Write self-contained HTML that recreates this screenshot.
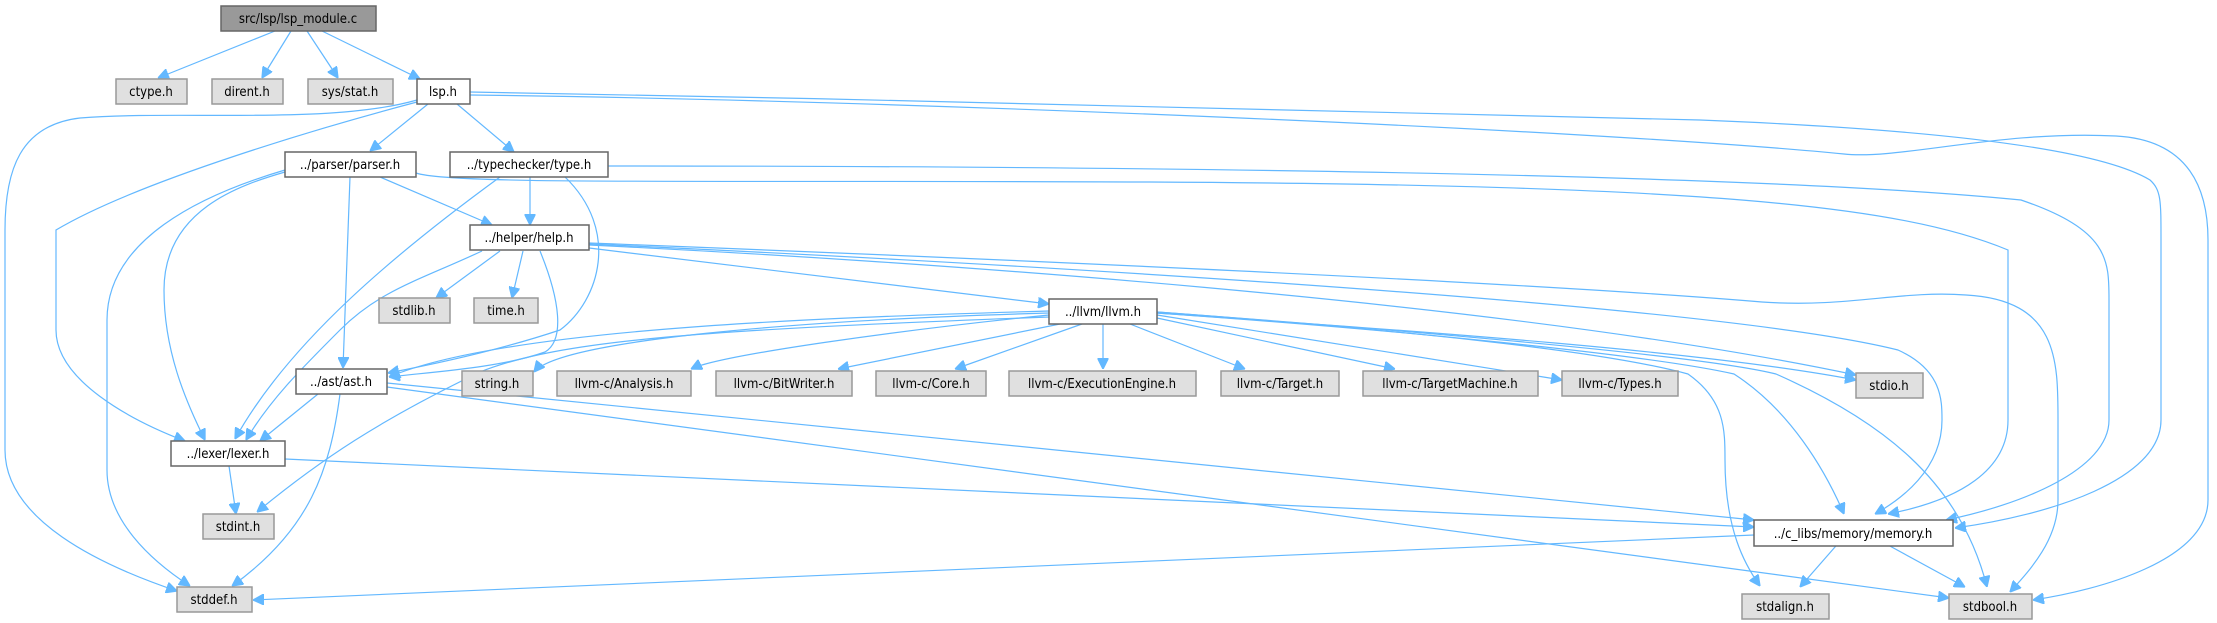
<!DOCTYPE html>
<html><head><meta charset="utf-8"><style>
html,body{margin:0;padding:0;background:#fff;}
svg{display:block;}
text{font-family:"DejaVu Sans Condensed","DejaVu Sans","Liberation Sans",sans-serif;font-size:13px;fill:#000;text-anchor:middle;}
.n{fill:#fff;stroke:#666;stroke-width:1.5;}
.g{fill:#e0e0e0;stroke:#999;stroke-width:1.5;}
.r{fill:#999;stroke:#666;stroke-width:1.5;}
path{fill:none;stroke:#63b8ff;stroke-width:1.2;}
</style></head><body>
<svg width="2217" height="623" viewBox="0 0 2217 623" xmlns="http://www.w3.org/2000/svg">
<defs><marker id="a" viewBox="0 0 10 10" refX="10" refY="5" markerWidth="11" markerHeight="11" markerUnits="userSpaceOnUse" orient="auto"><path d="M0,0 L10,5 L0,10 z" style="fill:#63b8ff;stroke:#63b8ff"/></marker></defs>
<g marker-end="url(#a)">
<!-- lsp_module -->
<path d="M275,31 L158,78"/>
<path d="M291,31 L262,78"/>
<path d="M307,31 L338,78"/>
<path d="M322,31 L420,79"/>
<!-- lsp.h -->
<path d="M428,104 L370,151"/>
<path d="M457,104 L514,152"/>
<path d="M417,102 C330,125 140,180 56,230 L56,330 C56,380 130,420 185,441"/>
<path d="M417,100 C330,125 180,110 80,118 C20,125 5,170 5,230 L5,450 C5,520 100,565 177,591"/>
<path d="M470,92 C900,100 1400,110 1700,120 C1950,130 2100,150 2150,180 C2161,190 2161,200 2161,240 L2161,420 C2161,480 2050,515 1955,528"/>
<path d="M470,95 C900,100 1600,130 1844,154 C1900,160 2000,130 2116,136 C2190,140 2208,190 2208,240 L2208,500 C2208,560 2100,590 2033,600"/>
<!-- parser -->
<path d="M380,177 L492,225"/>
<path d="M350,177 L343,368"/>
<path d="M285,172 C240,185 164,210 164,290 C164,350 185,400 205,440"/>
<path d="M285,170 C200,195 107,240 107,320 L107,470 C107,520 150,560 190,586"/>
<path d="M416,173 C450,185 700,180 1150,182 C1700,185 1900,205 2008,250 L2008,420 C2008,470 1960,500 1888,514"/>
<!-- type -->
<path d="M530,177 L530,225"/>
<path d="M500,177 C400,250 290,340 235,439"/>
<path d="M565,177 C620,230 600,300 560,330 C500,350 430,365 388,373"/>
<path d="M608,166 C900,166 1700,168 2021,200 C2109,230 2109,260 2109,300 L2109,420 C2109,470 2020,505 1946,520"/>
<!-- help -->
<path d="M500,251 L436,298"/>
<path d="M523,251 L512,298"/>
<path d="M589,248 L1049,304"/>
<path d="M482,251 C420,280 380,290 340,330 C300,370 270,400 246,440"/>
<path d="M540,251 C560,300 565,340 545,352 C500,368 430,372 389,377"/>
<path d="M589,243 C900,255 1500,280 1762,302 C1850,308 1900,290 1966,295 C2058,300 2058,360 2058,420 L2058,500 C2058,540 2030,570 2010,592"/>
<path d="M589,244 C900,258 1700,300 1898,350 C1942,370 1942,400 1942,420 C1942,470 1900,500 1875,514"/>
<path d="M589,245 C900,260 1500,300 1856,375"/>
<!-- llvm -->
<path d="M1049,311 C800,318 500,330 389,377"/>
<path d="M1049,313 C800,320 560,340 534,372"/>
<path d="M1049,315 C900,330 720,355 691,369"/>
<path d="M1060,324 L838,369"/>
<path d="M1082,324 L955,369"/>
<path d="M1103,324 L1103,369"/>
<path d="M1130,324 L1245,369"/>
<path d="M1157,318 L1395,369"/>
<path d="M1157,315 L1562,380"/>
<path d="M1157,313 C1400,330 1700,350 1856,380"/>
<path d="M1049,317 C700,330 560,340 480,372 C380,420 320,460 257,512"/>
<path d="M1157,312 C1400,330 1600,350 1688,374 C1725,400 1725,430 1725,460 C1725,530 1745,565 1760,586"/>
<path d="M1157,313 C1400,330 1650,355 1734,374 C1790,410 1825,470 1844,514"/>
<path d="M1157,312 C1400,330 1700,355 1776,374 C1880,420 1960,480 1987,587"/>
<!-- ast -->
<path d="M318,394 L260,441"/>
<path d="M340,394 C330,470 310,530 232,586"/>
<path d="M387,383 L1754,520"/>
<path d="M387,387 L1949,598"/>
<!-- lexer -->
<path d="M229,466 L236,514"/>
<path d="M285,459 L1754,527"/>
<!-- memory -->
<path d="M1754,535 L253,600"/>
<path d="M1842,539 L1800,587"/>
<path d="M1877,539 L1965,587"/>
</g>
<!-- nodes -->
<rect class="r" x="221" y="6" width="155" height="25"/><text x="298" y="23">src/lsp/lsp_module.c</text>
<rect class="g" x="116" y="79" width="71" height="25"/><text x="151" y="96">ctype.h</text>
<rect class="g" x="212" y="79" width="71" height="25"/><text x="247" y="96">dirent.h</text>
<rect class="g" x="308" y="79" width="85" height="25"/><text x="350" y="96">sys/stat.h</text>
<rect class="n" x="417" y="79" width="53" height="25"/><text x="443" y="96">lsp.h</text>
<rect class="n" x="285" y="152" width="131" height="25"/><text x="350" y="169">../parser/parser.h</text>
<rect class="n" x="450" y="152" width="158" height="25"/><text x="529" y="169">../typechecker/type.h</text>
<rect class="n" x="470" y="225" width="119" height="25"/><text x="529" y="242">../helper/help.h</text>
<rect class="g" x="379" y="298" width="71" height="25"/><text x="414" y="315">stdlib.h</text>
<rect class="g" x="474" y="298" width="64" height="25"/><text x="506" y="315">time.h</text>
<rect class="n" x="1049" y="299" width="108" height="25"/><text x="1103" y="316">../llvm/llvm.h</text>
<rect class="n" x="296" y="369" width="91" height="25"/><text x="341" y="386">../ast/ast.h</text>
<rect class="g" x="462" y="371" width="71" height="25"/><text x="497" y="388">string.h</text>
<rect class="g" x="557" y="371" width="134" height="25"/><text x="624" y="388">llvm-c/Analysis.h</text>
<rect class="g" x="716" y="371" width="136" height="25"/><text x="784" y="388">llvm-c/BitWriter.h</text>
<rect class="g" x="876" y="371" width="110" height="25"/><text x="931" y="388">llvm-c/Core.h</text>
<rect class="g" x="1009" y="371" width="187" height="25"/><text x="1102" y="388">llvm-c/ExecutionEngine.h</text>
<rect class="g" x="1221" y="371" width="118" height="25"/><text x="1280" y="388">llvm-c/Target.h</text>
<rect class="g" x="1363" y="371" width="175" height="25"/><text x="1450" y="388">llvm-c/TargetMachine.h</text>
<rect class="g" x="1562" y="371" width="116" height="25"/><text x="1620" y="388">llvm-c/Types.h</text>
<rect class="g" x="1856" y="373" width="67" height="25"/><text x="1889" y="390">stdio.h</text>
<rect class="n" x="171" y="441" width="114" height="25"/><text x="228" y="458">../lexer/lexer.h</text>
<rect class="g" x="203" y="514" width="71" height="25"/><text x="238" y="531">stdint.h</text>
<rect class="n" x="1754" y="520" width="199" height="26"/><text x="1853" y="538">../c_libs/memory/memory.h</text>
<rect class="g" x="177" y="587" width="75" height="25"/><text x="214" y="604">stddef.h</text>
<rect class="g" x="1742" y="594" width="87" height="25"/><text x="1785" y="611">stdalign.h</text>
<rect class="g" x="1949" y="594" width="83" height="25"/><text x="1990" y="611">stdbool.h</text>
</svg>
</body></html>
